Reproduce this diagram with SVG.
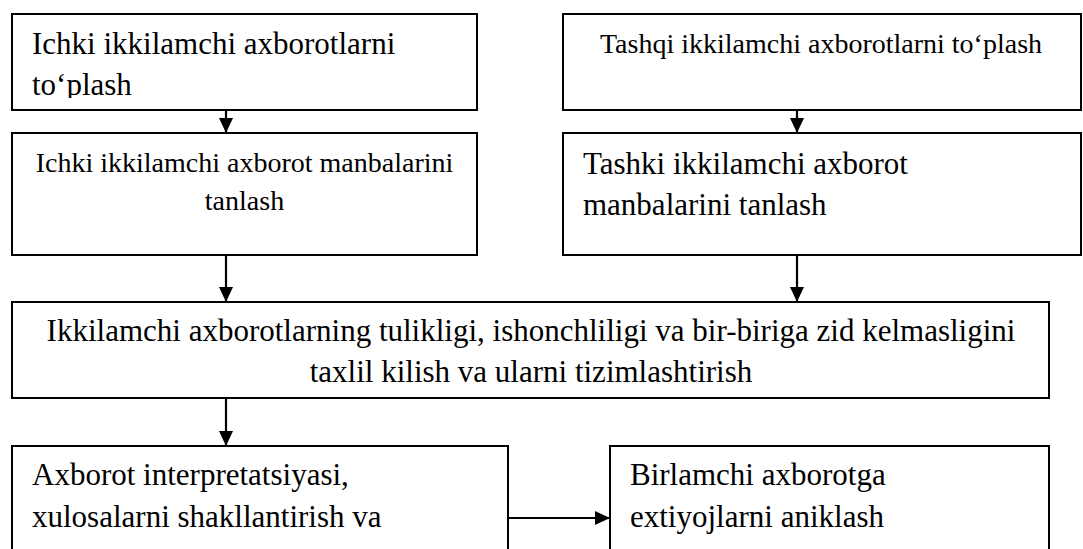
<svg xmlns="http://www.w3.org/2000/svg" width="1083" height="549" viewBox="0 0 1083 549">
<style>
.box{fill:#fff;stroke:#000;stroke-width:2}
.t{font-family:"Liberation Serif","Times New Roman",serif;fill:#000}
.big{font-size:31px}
.sm{font-size:28px}
.c{text-anchor:middle}
.con{stroke:#000;stroke-width:2.2;fill:none}
</style>
<defs>
<marker id="ah" viewBox="0 0 10 10" refX="10" refY="5" markerWidth="7" markerHeight="7" markerUnits="userSpaceOnUse" orient="auto">
<path d="M0,0 L10,5 L0,10 z" fill="#000"/>
</marker>
<marker id="arr" viewBox="0 0 15 14" refX="15" refY="7" markerWidth="15" markerHeight="14" markerUnits="userSpaceOnUse" orient="auto">
<path d="M0,0 L15,7 L0,14 z" fill="#000"/>
</marker>
<clipPath id="clip1"><rect x="12" y="14" width="465" height="84"/></clipPath>
</defs>
<rect width="1083" height="549" fill="#fff"/>
<g id="n1">
<rect class="box" x="12" y="14" width="465" height="96"/>
<g clip-path="url(#clip1)">
<text class="t big" x="32" y="54">Ichki ikkilamchi axborotlarni</text>
<text class="t big" x="32" y="95">to‘plash</text>
</g>
</g>
<g id="n2">
<rect class="box" x="563" y="14" width="518" height="96"/>
<text class="t sm c" x="821" y="53">Tashqi ikkilamchi axborotlarni to‘plash</text>
</g>
<g id="n3">
<rect class="box" x="12" y="133" width="465" height="122"/>
<text class="t sm c" x="244.5" y="172">Ichki ikkilamchi axborot manbalarini</text>
<text class="t sm c" x="244.5" y="210">tanlash</text>
</g>
<g id="n4">
<rect class="box" x="563" y="133" width="518" height="122"/>
<text class="t big" x="583" y="174">Tashki ikkilamchi axborot</text>
<text class="t big" x="583" y="215">manbalarini tanlash</text>
</g>
<g id="n5">
<rect class="box" x="12" y="302" width="1037" height="96"/>
<text class="t big c" x="531" y="341">Ikkilamchi axborotlarning tulikligi, ishonchliligi va bir-biriga zid kelmasligini</text>
<text class="t big c" x="531" y="382">taxlil kilish va ularni tizimlashtirish</text>
</g>
<g id="n6">
<rect class="box" x="12" y="446" width="496" height="130"/>
<text class="t big" x="32" y="485">Axborot interpretatsiyasi,</text>
<text class="t big" x="32" y="527">xulosalarni shakllantirish va</text>
</g>
<g id="n7">
<rect class="box" x="610" y="446" width="439" height="130"/>
<text class="t big" x="630" y="485">Birlamchi axborotga</text>
<text class="t big" x="630" y="527">extiyojlarni aniklash</text>
</g>
<g id="connectors">
<line class="con" x1="226" y1="110" x2="226" y2="133" marker-end="url(#arr)"/>
<line class="con" x1="797" y1="110" x2="797" y2="133" marker-end="url(#arr)"/>
<line class="con" x1="226" y1="255" x2="226" y2="302" marker-end="url(#arr)"/>
<line class="con" x1="797" y1="255" x2="797" y2="302" marker-end="url(#arr)"/>
<line class="con" x1="226" y1="398" x2="226" y2="446" marker-end="url(#arr)"/>
<line class="con" x1="508" y1="518" x2="610" y2="518" marker-end="url(#arr)"/>
</g>
</svg>
